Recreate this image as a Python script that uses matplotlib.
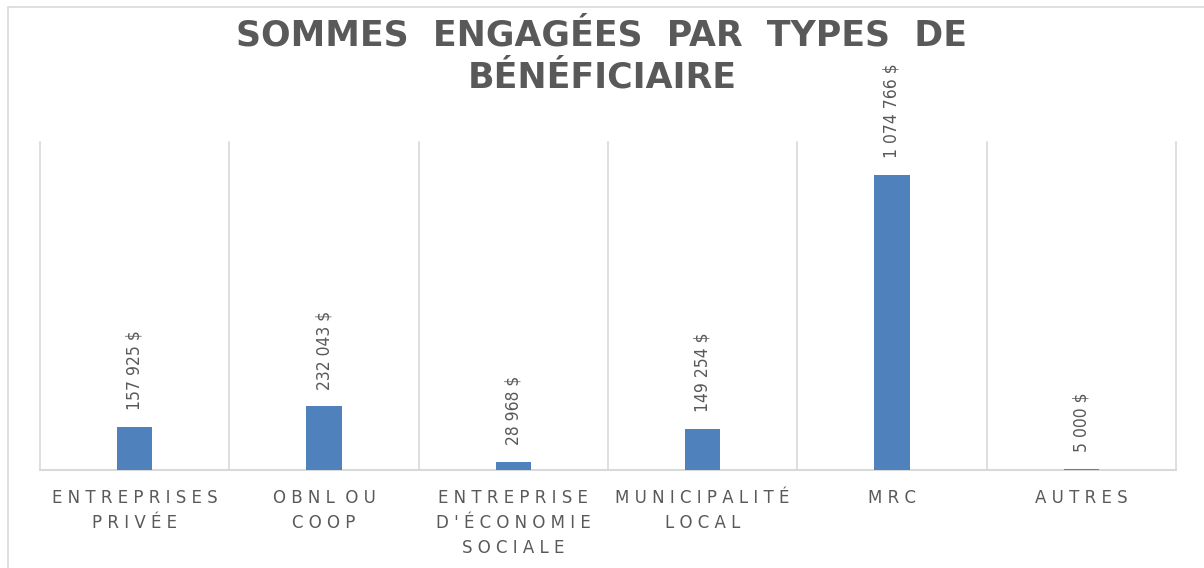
import matplotlib.pyplot as plt
from matplotlib.patches import Rectangle

categories = ['ENTREPRISES\nPRIVÉE', 'OBNL OU\nCOOP', "ENTREPRISE\nD'ÉCONOMIE\nSOCIALE",
              'MUNICIPALITÉ\nLOCAL', 'MRC', 'AUTRES']
values = [157925, 232043, 28968, 149254, 1074766, 5000]
title_lines = ['SOMMES  ENGAGÉES  PAR  TYPES  DE', 'BÉNÉFICIAIRE']


def spaced(s):
    # letter spacing like the spreadsheet chart
    lines = []
    for line in s.split('\n'):
        words = [' '.join(w) for w in line.split(' ')]
        lines.append('  '.join(words))
    return '\n'.join(lines)


def money(v):
    return f'{v:,}'.replace(',', ' ') + ' $'


fig = plt.figure(figsize=(12.04, 5.68), dpi=100)
fig.patches.append(Rectangle((8 / 1204, -0.1), 1.2, 1 - 7 / 568 + 0.1, transform=fig.transFigure,
                             fill=False, edgecolor='#d9d9d9', linewidth=1.2))

ax = fig.add_axes([40 / 1204, 1 - 470 / 568, (1176 - 40) / 1204, (470 - 142) / 568])
x = list(range(len(values)))
ax.bar(x, values, width=0.185, color='#4f81bd', zorder=3)
ax.set_xlim(-0.5, len(values) - 0.5)
ax.set_ylim(0, 1195000)

for i in range(len(values) + 1):
    ax.axvline(i - 0.5, color='#d9d9d9', linewidth=1.2, clip_on=False, zorder=1)

for xi, v in zip(x, values):
    ax.annotate(money(v), (xi, v), xytext=(0, 12), textcoords='offset points',
                rotation=90, ha='center', va='bottom', fontsize=12.5, color='#595959',
                fontstretch='condensed')

for s in ['top', 'left', 'right']:
    ax.spines[s].set_visible(False)
ax.spines['bottom'].set_color('#d9d9d9')
ax.spines['bottom'].set_linewidth(1.5)
ax.set_yticks([])
ax.set_xticks(x)
ax.set_xticklabels([spaced(c) for c in categories], fontsize=12, color='#595959',
                   linespacing=1.5)
ax.tick_params(axis='x', length=0, pad=14)

for k, line in enumerate(title_lines):
    fig.text(0.5, 1 - (36 + 41 * k) / 568, line, ha='center', va='center',
             fontsize=25, fontweight='bold', color='#595959')

fig.savefig('out.png', dpi=100)
